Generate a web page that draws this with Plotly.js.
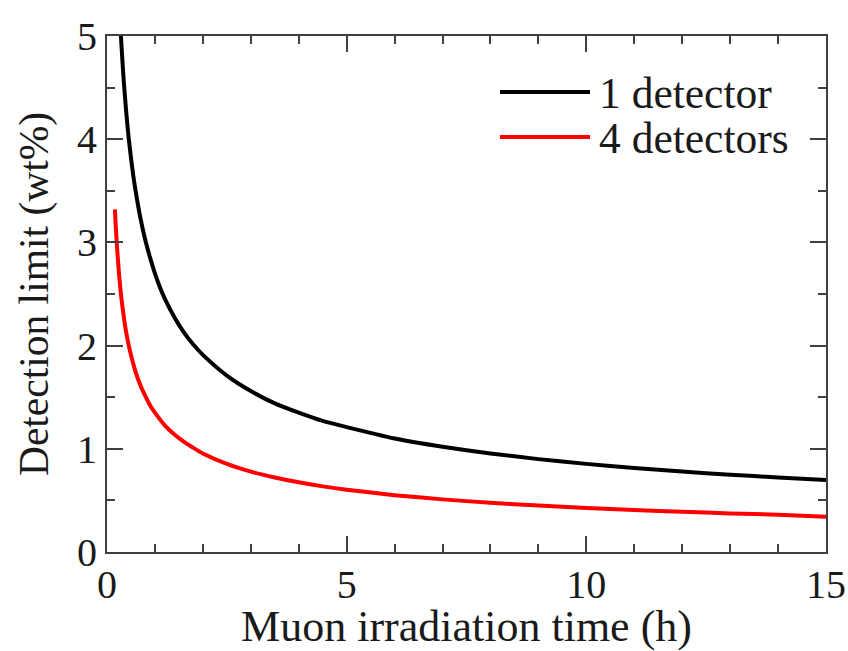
<!DOCTYPE html>
<html>
<head>
<meta charset="utf-8">
<script src="https://cdn.plot.ly/plotly-3.0.1.min.js"></script>
<style>html,body{margin:0;padding:0;background:#fff;}#chart{width:848px;height:651px;}</style>
</head>
<body>
<div id="chart"></div>
<script>
// Series names
const seriesNames = ["1 detector", "4 detectors"];
const seriesColors = ["#000000", "#ff0000"];

// 1 detector
const timeOne = [0.29, 0.32, 0.35, 0.4, 0.45, 0.5, 0.55, 0.6, 0.7, 0.8, 0.9, 1.0, 1.1, 1.2, 1.4, 1.6, 1.8, 2.0, 2.5, 3, 3.5, 4, 4.5, 5, 6, 7, 8, 9, 10, 11, 12, 13, 14, 15];
const limitOne = [5.0, 4.77, 4.56, 4.27, 4.02, 3.82, 3.64, 3.49, 3.23, 3.02, 2.85, 2.70, 2.57, 2.46, 2.28, 2.13, 2.01, 1.91, 1.71, 1.56, 1.44, 1.35, 1.27, 1.21, 1.10, 1.02, 0.955, 0.90, 0.854, 0.814, 0.779, 0.749, 0.722, 0.697];

// 4 detectors
const timeFour = [0.165, 0.18, 0.2, 0.225, 0.25, 0.275, 0.3, 0.35, 0.4, 0.45, 0.5, 0.6, 0.7, 0.8, 0.9, 1.0, 1.2, 1.4, 1.6, 1.8, 2.0, 2.5, 3, 3.5, 4, 4.5, 5, 6, 7, 8, 9, 10, 11, 12, 13, 14, 15];
const limitFour = [3.32, 3.18, 3.02, 2.85, 2.70, 2.57, 2.46, 2.28, 2.13, 2.01, 1.91, 1.74, 1.61, 1.51, 1.42, 1.35, 1.23, 1.14, 1.07, 1.01, 0.955, 0.854, 0.779, 0.722, 0.675, 0.636, 0.604, 0.551, 0.51, 0.477, 0.45, 0.427, 0.407, 0.39, 0.374, 0.361, 0.342];

// Tick labels
const xTickVals = [0, 5, 10, 15];
const yTickVals = [0, 1, 2, 3, 4, 5];

const xTitle = "Muon irradiation time (h)";
const yTitle = "Detection limit (wt%)";

const FONT = "Liberation Serif";
const TXT = "#1a1a1a";
const AXC = "#404040";

const traces = [
  {x: timeOne, y: limitOne, name: seriesNames[0], mode: "lines", line: {color: seriesColors[0], width: 4, shape: "spline", smoothing: 0.6}, showlegend: false},
  {x: timeFour, y: limitFour, name: seriesNames[1], mode: "lines", line: {color: seriesColors[1], width: 4, shape: "spline", smoothing: 0.6}, showlegend: false}
];

const axisCommon = {
  showline: true, linecolor: AXC, linewidth: 2, mirror: "ticks",
  ticks: "inside", ticklen: 16, tickwidth: 2, tickcolor: AXC,
  showgrid: false, zeroline: false,
  tickfont: {family: FONT, size: 40, color: TXT}
};

const layout = {
  width: 848, height: 651,
  margin: {l: 107, r: 22, t: 36, b: 99},
  paper_bgcolor: "#fff", plot_bgcolor: "#fff",
  font: {family: FONT, color: TXT},
  xaxis: Object.assign({}, axisCommon, {
    range: [0, 15], tickvals: xTickVals, ticktext: xTickVals.map(String),
    ticklabelstandoff: -4,
    minor: {dtick: 1, ticks: "inside", ticklen: 8, tickwidth: 2, tickcolor: AXC, showgrid: false},
    title: {text: xTitle, font: {family: FONT, size: 44, color: TXT}, standoff: 9}
  }),
  yaxis: Object.assign({}, axisCommon, {
    range: [0, 5], tickvals: yTickVals, ticktext: yTickVals.map(String),
    minor: {dtick: 0.5, ticks: "inside", ticklen: 8, tickwidth: 2, tickcolor: AXC, showgrid: false},
    title: {text: yTitle, font: {family: FONT, size: 41.5, color: TXT}, standoff: 15}
  }),
  shapes: [
    {type: "line", xref: "paper", yref: "paper", x0: (500-107)/719, x1: (590-107)/719, y0: (552-92)/516, y1: (552-92)/516, line: {color: seriesColors[0], width: 4}},
    {type: "line", xref: "paper", yref: "paper", x0: (500-107)/719, x1: (590-107)/719, y0: (552-137)/516, y1: (552-137)/516, line: {color: seriesColors[1], width: 4}}
  ],
  annotations: [
    {xref: "paper", yref: "paper", x: (597-107)/719, y: (552-93)/516, xanchor: "left", yanchor: "middle", showarrow: false, text: seriesNames[0], font: {family: FONT, size: 43.5, color: TXT}},
    {xref: "paper", yref: "paper", x: (597-107)/719, y: (552-138)/516, xanchor: "left", yanchor: "middle", showarrow: false, text: seriesNames[1], font: {family: FONT, size: 43.5, color: TXT}}
  ]
};

Plotly.newPlot("chart", traces, layout, {staticPlot: true, displayModeBar: false});
</script>
</body>
</html>
